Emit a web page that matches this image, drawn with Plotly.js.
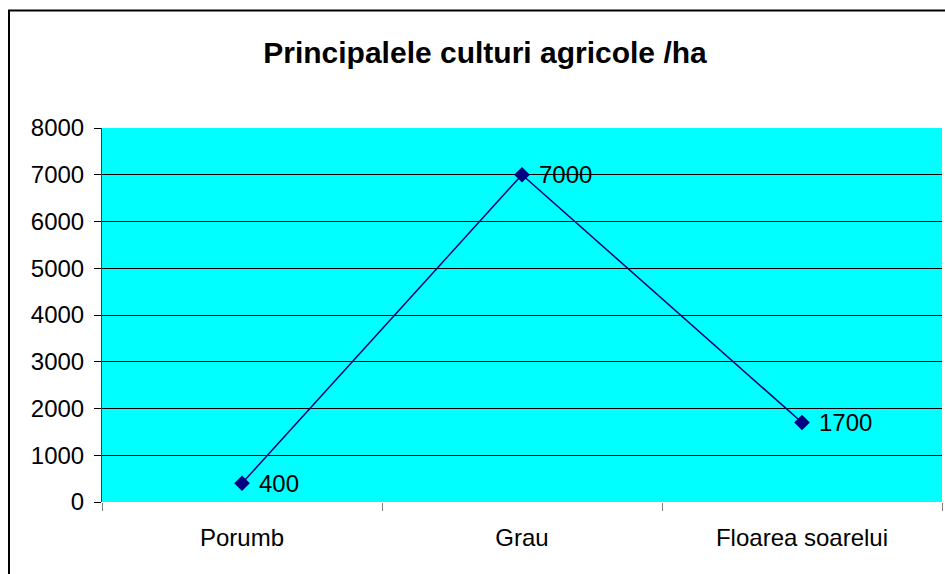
<!DOCTYPE html>
<html>
<head>
<meta charset="utf-8">
<script src="https://cdn.plot.ly/plotly-3.0.1.min.js"></script>
<style>
  html, body { margin: 0; padding: 0; background: #fff; }
  #chart { width: 945px; height: 574px; }
</style>
</head>
<body>
<div id="chart"></div>
<script>
// culturi si suprafete (ha)
const culturi = ['Porumb', 'Grau', 'Floarea soarelui'];
const hectare = [400, 7000, 1700];
const yTicks = [0, 1000, 2000, 3000, 4000, 5000, 6000, 7000, 8000];

const navy = '#000080';
const font = 'Liberation Sans, Arial, sans-serif';

// plot area in pixels: left 102, top 128, right 942, bottom 502
const W = 945, H = 574;
const mL = 102, mR = 3, mT = 128, mB = 72;
const pw = W - mL - mR, ph = H - mT - mB;
const px = v => (v - mL) / pw;          // pixel -> paper x
const py = v => 1 - (v - mT) / ph;      // pixel -> paper y

const trace = {
    x: culturi,
    y: hectare,
    type: 'scatter',
    mode: 'lines+markers',
    line: { color: navy, width: 1.5 },
    marker: { symbol: 'diamond', size: 12, color: navy },
    cliponaxis: false,
    hoverinfo: 'x+y'
};

// value labels, right of each marker
const valueLabels = culturi.map((c, i) => ({
    x: c, y: hectare[i], xref: 'x', yref: 'y',
    text: String(hectare[i]),
    showarrow: false,
    xanchor: 'left', yanchor: 'middle',
    xshift: 15, yshift: 0,
    font: { family: font, size: 24, color: '#000' }
}));

const layout = {
    width: W,
    height: H,
    margin: { l: mL, r: mR, t: mT, b: mB, pad: 0 },
    paper_bgcolor: '#fff',
    plot_bgcolor: '#00FFFF',
    showlegend: false,
    font: { family: font, size: 24, color: '#000' },
    title: {
        text: '<b>Principalele culturi agricole /ha</b>',
        font: { family: font, size: 30, color: '#000' },
        x: px(485), xref: 'paper', xanchor: 'center',
        y: 1 - 52 / H, yanchor: 'middle'
    },
    xaxis: {
        type: 'category',
        range: [-0.5, 2.5],
        tickson: 'boundaries',
        ticks: 'outside',
        ticklen: 8,
        tickcolor: '#808080',
        tickwidth: 1,
        showgrid: false,
        showline: false,
        zeroline: false,
        ticklabelstandoff: 19,
        tickfont: { family: font, size: 24, color: '#000' },
        fixedrange: true
    },
    yaxis: {
        range: [0, 8000],
        tickvals: yTicks,
        ticktext: yTicks.map(String),
        ticks: 'outside',
        ticklen: 7,
        tickcolor: '#000',
        showgrid: true,
        gridcolor: '#000',
        gridwidth: 1,
        showline: true,
        linecolor: '#404040',
        linewidth: 1,
        zeroline: false,
        ticklabelstandoff: 5,
        tickfont: { family: font, size: 24, color: '#000' },
        fixedrange: true
    },
    annotations: valueLabels,
    shapes: [
        {   // chart border
            type: 'rect', xref: 'paper', yref: 'paper', layer: 'above',
            x0: px(9), x1: px(947), y0: py(576), y1: py(10.5),
            line: { color: '#000', width: 2 }, fillcolor: 'rgba(0,0,0,0)'
        }
    ]
};

Plotly.newPlot('chart', [trace], layout, { displayModeBar: false, staticPlot: true });
</script>
</body>
</html>
